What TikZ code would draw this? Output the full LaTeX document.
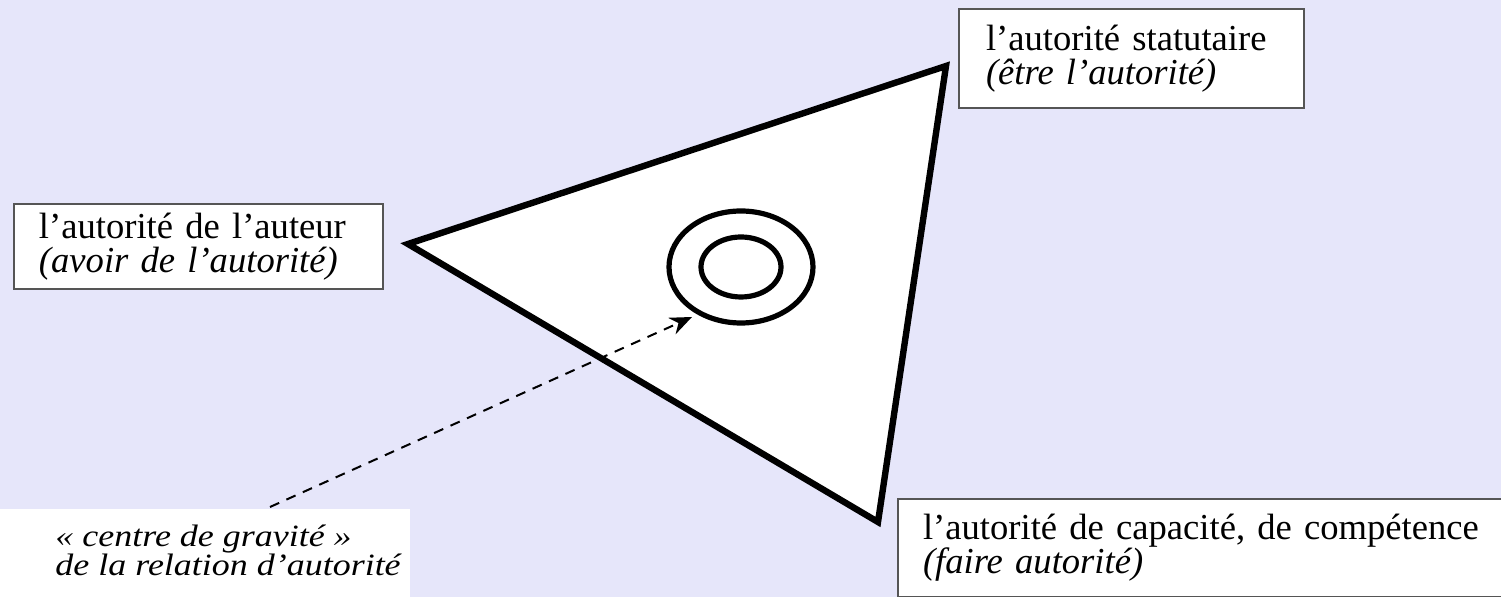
\documentclass[tikz,border=0pt]{standalone}
\usepackage{fontspec}
\setmainfont{Liberation Serif}
\usetikzlibrary{arrows.meta}
\definecolor{bglav}{HTML}{E6E6FA}
\definecolor{boxline}{HTML}{555555}
\tikzset{
  labelbox/.style={draw=boxline, line width=1pt, fill=white, anchor=north west, inner xsep=0pt, inner ysep=0pt, align=left, font=\fontsize{18.3}{17}\selectfont},
  tri/.style={draw=black, line width=3.2pt, fill=white, line join=miter},
  ring/.style={draw=black, line width=2.6pt},
  gravity/.style={dashed, dash pattern=on 5pt off 4pt, line width=1pt, -{Stealth[length=11pt,width=9pt]}}
}
\begin{document}
\begin{tikzpicture}[x=0.5pt,y=-0.5pt]
\useasboundingbox (0,0) rectangle (1501,597);
\fill[bglav] (0,0) rectangle (1501,597);
% triangle
\coordinate (tl) at (408,244);
\coordinate (tr) at (946,66);
\coordinate (tb) at (878,522);
\draw[tri] (tl) -- (tr) -- (tb) -- cycle;
% rings
\coordinate (c) at (741,267);
\draw[ring] (c) ellipse [x radius=36pt, y radius=28pt];
\draw[ring] (c) ellipse [x radius=20pt, y radius=15pt];
% white label area bottom left
\fill[white] (0,509) rectangle (410,597);
\coordinate (gstart) at (270,507);
\coordinate (gend) at (692,317);
\draw[gravity] (gstart) -- (gend);
\node[anchor=north west, inner sep=0pt, align=left, xscale=1.16, font=\fontsize{15.5}{14.5}\selectfont\itshape] (grav) at (55,525) {« centre de gravité »\\de la relation d'autorité};
% boxes
\node[labelbox, minimum width=172.5pt, minimum height=49.5pt, text width=172.5pt] (stat) at (958,8) {\hspace*{13.5pt}l'autorité statutaire\\\hspace*{13.5pt}\textit{(être l'autorité)}};
\node[labelbox, minimum width=184.5pt, minimum height=42.5pt, text width=184.5pt] (aut) at (13,203) {\hspace*{12.5pt}l'autorité de l'auteur\\\hspace*{12.5pt}\textit{(avoir de l'autorité)}};
\node[labelbox, minimum width=310pt, minimum height=49pt, text width=310pt] (cap) at (897,498) {\hspace*{12.5pt}l'autorité de capacité, de compétence\\\hspace*{12.5pt}\textit{(faire autorité)}};
\end{tikzpicture}
\end{document}
